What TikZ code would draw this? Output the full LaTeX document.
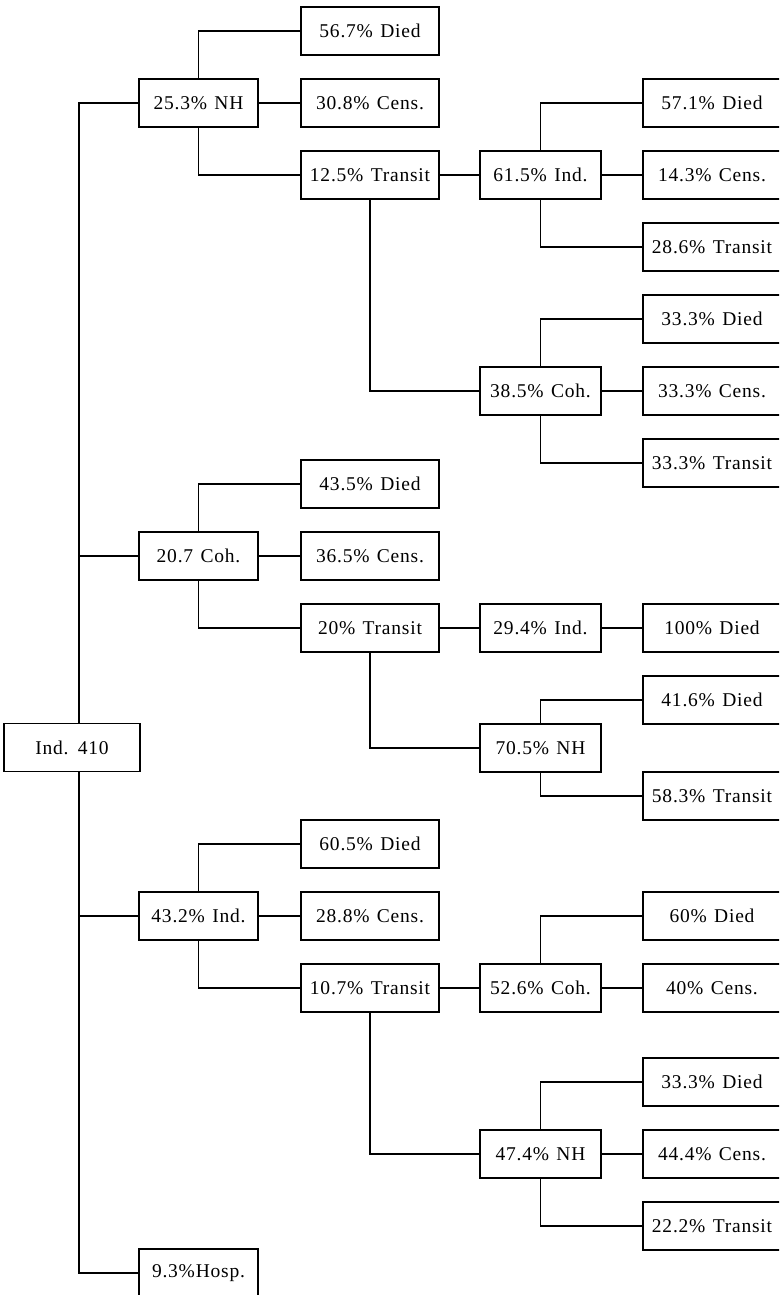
\documentclass[tikz,border=0pt]{standalone}
\usepackage{fontspec}
\newfontfamily\boxfont[LetterSpace=4,WordSpace=1.3]{Liberation Serif}
\begin{document}
\begin{tikzpicture}[x=1pt,y=-1pt,
  ln/.style={line width=1.4pt},
  bx/.style={draw, line width=1.4pt, minimum height=48pt, inner sep=0pt,
    font=\boxfont\fontsize{19.5}{22}\selectfont},
  wa/.style={bx, minimum width=136pt},
  wb/.style={bx, minimum width=119pt},
  wc/.style={bx, minimum width=138pt},
  wd/.style={bx, minimum width=121pt},
  we/.style={bx, minimum width=138pt}]
\useasboundingbox (0,0) rectangle (779,1295);
\clip (0,0) rectangle (779,1295);
% column 1
\node[wa] (root) at (72,747.5) {Ind. 410};
% column 2
\node[wb] (nh1) at (198.5,103) {25.3\% NH};
\node[wb] (coh1) at (198.5,556) {20.7 Coh.};
\node[wb] (ind1) at (198.5,916) {43.2\% Ind.};
\node[wb] (hosp) at (198.5,1273) {9.3\%Hosp.};
% column 3
\node[wc] (da) at (370,31) {56.7\% Died};
\node[wc] (ca) at (370,103) {30.8\% Cens.};
\node[wc] (ta) at (370,175) {12.5\% Transit};
\node[wc] (db) at (370,484) {43.5\% Died};
\node[wc] (cb) at (370,556) {36.5\% Cens.};
\node[wc] (tb) at (370,628) {20\% Transit};
\node[wc] (dc) at (370,844) {60.5\% Died};
\node[wc] (cc) at (370,916) {28.8\% Cens.};
\node[wc] (tc) at (370,988) {10.7\% Transit};
% column 4
\node[wd] (inda) at (540.5,175) {61.5\% Ind.};
\node[wd] (coha) at (540.5,391) {38.5\% Coh.};
\node[wd] (indb) at (540.5,628) {29.4\% Ind.};
\node[wd] (nhb) at (540.5,748) {70.5\% NH};
\node[wd] (cohc) at (540.5,988) {52.6\% Coh.};
\node[wd] (nhc) at (540.5,1154) {47.4\% NH};
% column 5
\node[we] (e1) at (712,103) {57.1\% Died};
\node[we] (e2) at (712,175) {14.3\% Cens.};
\node[we] (e3) at (712,247) {28.6\% Transit};
\node[we] (e4) at (712,319) {33.3\% Died};
\node[we] (e5) at (712,391) {33.3\% Cens.};
\node[we] (e6) at (712,463) {33.3\% Transit};
\node[we] (e7) at (712,628) {100\% Died};
\node[we] (e8) at (712,700) {41.6\% Died};
\node[we] (e9) at (712,796) {58.3\% Transit};
\node[we] (e10) at (712,916) {60\% Died};
\node[we] (e11) at (712,988) {40\% Cens.};
\node[we] (e12) at (712,1082) {33.3\% Died};
\node[we] (e13) at (712,1154) {44.4\% Cens.};
\node[we] (e14) at (712,1226) {22.2\% Transit};
% trunk
\draw[ln] ([xshift=7pt]root.north) |- (nh1.west);
\draw[ln] ([xshift=7pt]root.north) |- (coh1.west);
\draw[ln] ([xshift=7pt]root.south) |- (ind1.west);
\draw[ln] ([xshift=7pt]root.south) |- (hosp.west);
% NH branch
\draw[ln] (nh1.north) |- (da.west);
\draw[ln] (nh1.east) -- (ca.west);
\draw[ln] (nh1.south) |- (ta.west);
\draw[ln] (ta.east) -- (inda.west);
\draw[ln] (ta.south) |- (coha.west);
\draw[ln] (inda.north) |- (e1.west);
\draw[ln] (inda.east) -- (e2.west);
\draw[ln] (inda.south) |- (e3.west);
\draw[ln] (coha.north) |- (e4.west);
\draw[ln] (coha.east) -- (e5.west);
\draw[ln] (coha.south) |- (e6.west);
% Coh branch
\draw[ln] (coh1.north) |- (db.west);
\draw[ln] (coh1.east) -- (cb.west);
\draw[ln] (coh1.south) |- (tb.west);
\draw[ln] (tb.east) -- (indb.west);
\draw[ln] (tb.south) |- (nhb.west);
\draw[ln] (indb.east) -- (e7.west);
\draw[ln] (nhb.north) |- (e8.west);
\draw[ln] (nhb.south) |- (e9.west);
% Ind branch
\draw[ln] (ind1.north) |- (dc.west);
\draw[ln] (ind1.east) -- (cc.west);
\draw[ln] (ind1.south) |- (tc.west);
\draw[ln] (tc.east) -- (cohc.west);
\draw[ln] (tc.south) |- (nhc.west);
\draw[ln] (cohc.north) |- (e10.west);
\draw[ln] (cohc.east) -- (e11.west);
\draw[ln] (nhc.north) |- (e12.west);
\draw[ln] (nhc.east) -- (e13.west);
\draw[ln] (nhc.south) |- (e14.west);
\end{tikzpicture}
\end{document}
